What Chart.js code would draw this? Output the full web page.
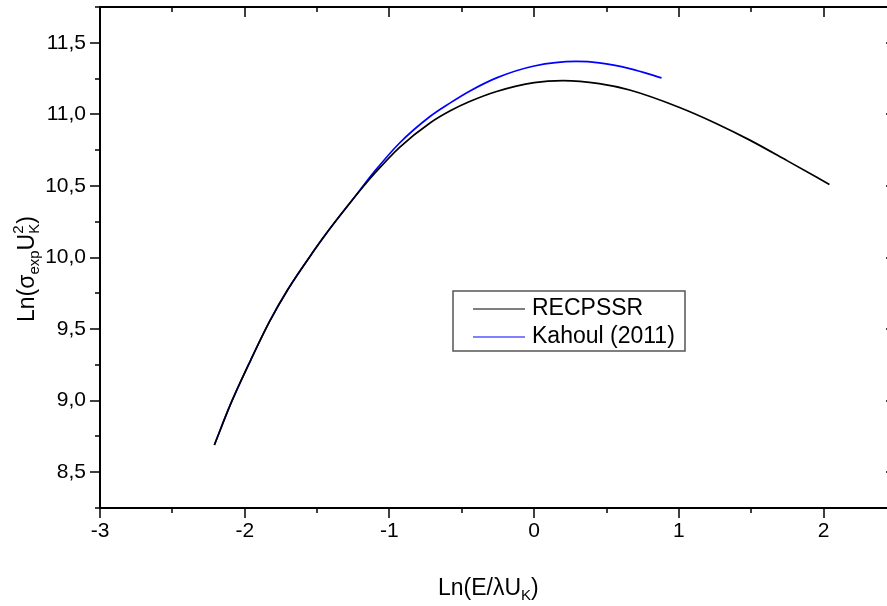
<!DOCTYPE html>
<html>
<head>
<meta charset="utf-8">
<script src="https://cdn.jsdelivr.net/npm/chart.js@4/dist/chart.umd.min.js"></script>
<style>
  html, body { margin: 0; padding: 0; background: #fff; overflow: hidden; }
  #wrap { width: 900px; height: 606px; position: relative; }
</style>
</head>
<body>
<div id="wrap"><canvas id="c" width="900" height="606"></canvas></div>
<script>
// ---- data ----
const recpssrX = [-2.21, -2.10, -1.96, -1.83, -1.70, -1.52, -1.42, -1.25, -1.10, -0.93, -0.72, -0.58, -0.45, -0.26, 0.00, 0.20, 0.45, 0.66, 1.00, 1.25, 1.49, 1.75, 2.04];
const recpssrY = [8.69, 8.97, 9.28, 9.55, 9.78, 10.05, 10.19, 10.41, 10.59, 10.77, 10.94, 11.025, 11.088, 11.16, 11.222, 11.236, 11.215, 11.17, 11.05, 10.94, 10.82, 10.675, 10.51];
const kahoulX = [-2.21, -2.10, -1.96, -1.83, -1.70, -1.52, -1.42, -1.25, -1.10, -0.93, -0.72, -0.58, -0.45, -0.26, 0.00, 0.29, 0.45, 0.66, 0.88];
const kahoulY = [8.69, 8.97, 9.28, 9.55, 9.78, 10.05, 10.19, 10.41, 10.605, 10.80, 10.985, 11.08, 11.16, 11.255, 11.338, 11.37, 11.36, 11.32, 11.255];
const seriesLabels = ["RECPSSR", "Kahoul (2011)"];
const xTickValues = [-3, -2, -1, 0, 1, 2];
const yTickValues = [8.5, 9.0, 9.5, 10.0, 10.5, 11.0, 11.5];

const FONT = '"Liberation Sans", Arial, sans-serif';
const toPts = (xs, ys) => xs.map((x, i) => ({ x: x, y: ys[i] }));

function drawRich(ctx, parts) {
  let x = 0;
  for (const p of parts) {
    ctx.font = p.size + 'px ' + FONT;
    ctx.fillText(p.t, x, p.dy || 0);
    const w = ctx.measureText(p.t).width;
    if (!p.stack) x += w;
  }
}

const framePlugin = {
  id: 'frame',
  afterDraw(chart) {
    const ctx = chart.ctx;
    const { left, right, top, bottom } = chart.chartArea;
    const xs = chart.scales.x, ys = chart.scales.y;
    ctx.save();
    ctx.strokeStyle = '#000';
    ctx.lineWidth = 2;
    ctx.strokeRect(left, top, right - left, bottom - top);

    ctx.lineWidth = 1.5;
    ctx.beginPath();
    for (let v = xs.min; v <= xs.max + 1e-9; v += 0.5) {
      const px = Math.round(xs.getPixelForValue(v));
      const major = Math.abs(v - Math.round(v)) < 1e-9;
      const len = major ? 10 : 5;
      ctx.moveTo(px, bottom); ctx.lineTo(px, bottom + len);
      ctx.moveTo(px, top); ctx.lineTo(px, top + len);
    }
    for (let v = ys.min; v <= ys.max + 1e-9; v += 0.25) {
      const py = Math.round(ys.getPixelForValue(v));
      const major = Math.abs(v * 2 - Math.round(v * 2)) < 1e-9;
      const len = major ? 10 : 5;
      ctx.moveTo(left - len, py); ctx.lineTo(left, py);
      ctx.moveTo(right - len, py); ctx.lineTo(right, py);
    }
    ctx.stroke();

    // legend
    const lx = left + 353, ly = top + 284;
    ctx.strokeStyle = '#555';
    ctx.lineWidth = 1.5;
    ctx.strokeRect(lx, ly, 232, 60);
    const ds = chart.data.datasets;
    ctx.textBaseline = 'middle';
    ctx.textAlign = 'left';
    ctx.font = '23px ' + FONT;
    ds.forEach((d, i) => {
      const yy = ly + 18 + i * 28;
      ctx.strokeStyle = d.borderColor;
      ctx.lineWidth = 1.2;
      ctx.beginPath(); ctx.moveTo(lx + 20, yy); ctx.lineTo(lx + 72, yy); ctx.stroke();
      ctx.fillStyle = '#000';
      ctx.fillText(d.label, lx + 79, yy);
    });

    // axis titles
    ctx.fillStyle = '#000';
    ctx.textBaseline = 'alphabetic';
    ctx.save();
    ctx.translate(left + 338, bottom + 87);
    drawRich(ctx, [
      { t: 'Ln(E/\u03BBU', size: 23 },
      { t: 'K', size: 15, dy: 5 },
      { t: ')', size: 23 }
    ]);
    ctx.restore();

    ctx.save();
    ctx.translate(34, top + 315);
    ctx.rotate(-Math.PI / 2);
    drawRich(ctx, [
      { t: 'Ln(', size: 23 },
      { t: '\u03C3', size: 23 },
      { t: 'exp', size: 15, dy: 5 },
      { t: 'U', size: 23 },
      { t: '2', size: 15, dy: -11, stack: true },
      { t: 'K', size: 15, dy: 5 },
      { t: ')', size: 23 }
    ]);
    ctx.restore();
    ctx.restore();
  }
};

new Chart(document.getElementById('c'), {
  type: 'scatter',
  data: {
    datasets: [
      { label: seriesLabels[0], data: toPts(recpssrX, recpssrY), showLine: true, borderColor: '#000000', borderWidth: 1.7, pointRadius: 0, cubicInterpolationMode: 'monotone', fill: false },
      { label: seriesLabels[1], data: toPts(kahoulX, kahoulY), showLine: true, borderColor: '#0000ff', borderWidth: 1.7, pointRadius: 0, cubicInterpolationMode: 'monotone', fill: false }
    ]
  },
  options: {
    responsive: false,
    animation: false,
    layout: { padding: { left: 0, right: 4, top: 7, bottom: 0 } },
    plugins: { legend: { display: false }, tooltip: { enabled: false } },
    scales: {
      x: {
        type: 'linear', min: -3, max: 2.5,
        afterBuildTicks: s => { s.ticks = xTickValues.map(v => ({ value: v })); },
        afterFit: s => { s.height = 98; s.paddingLeft = 0; s.paddingRight = 0; },
        grid: { display: false },
        border: { display: false },
        ticks: { color: '#000', padding: 3, font: { family: FONT, size: 21 }, callback: v => String(v), maxRotation: 0 }
      },
      y: {
        type: 'linear', min: 8.25, max: 11.75,
        afterBuildTicks: s => { s.ticks = yTickValues.map(v => ({ value: v })); },
        afterFit: s => { s.width = 100; s.paddingTop = 0; s.paddingBottom = 0; },
        grid: { display: false },
        border: { display: false },
        ticks: { color: '#000', padding: 6, font: { family: FONT, size: 21 }, callback: v => Number(v).toFixed(1).replace('.', ',') }
      }
    }
  },
  plugins: [framePlugin]
});
</script>
</body>
</html>
